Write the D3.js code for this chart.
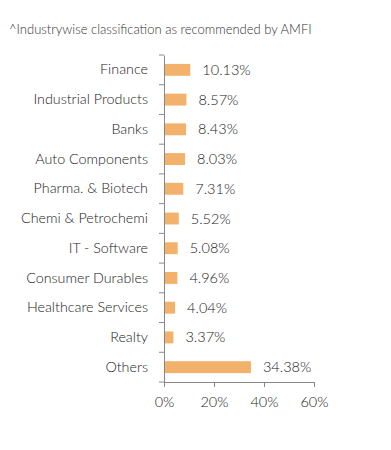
<!DOCTYPE html>
<html><head><meta charset="utf-8">
<script src="https://cdn.jsdelivr.net/npm/d3@7"></script>
<style>body{margin:0;background:#fff;}svg{display:block;font-family:Lato,"Open Sans",sans-serif;font-weight:300;}</style>
</head><body><svg id="c" width="391" height="450"></svg>
<script>
const categories = ["Finance","Industrial Products","Banks","Auto Components","Pharma. & Biotech","Chemi & Petrochemi","IT - Software","Consumer Durables","Healthcare Services","Realty","Others"];
const values = [10.13,8.57,8.43,8.03,7.31,5.52,5.08,4.96,4.04,3.37,34.38];
const xTicks = [0,20,40,60];
const title = "^Industrywise classification as recommended by AMFI";

const svg = d3.select("#c");
const x = d3.scaleLinear().domain([0,60]).range([164,314]);
const y = d3.scaleBand().domain(categories).range([55,382]).paddingInner(0.6).paddingOuter(0.3);

svg.append("text").attr("x",9).attr("y",34).attr("font-size",13).attr("fill","#333").text(title);

const yAxis = svg.append("g").attr("transform","translate(164,0)")
  .call(d3.axisLeft(y).tickSize(0).tickPadding(16));
yAxis.select(".domain").attr("stroke","#888");
yAxis.selectAll("text").attr("font-size",14.3).attr("fill","#222").attr("font-family","Lato").attr("font-weight",300);
const bounds = d3.range(categories.length+1).map(i=>55+i*(327/categories.length));
svg.append("g").selectAll("line").data(bounds).join("line")
  .attr("x1",159).attr("x2",164).attr("y1",d=>d).attr("y2",d=>d).attr("stroke","#888");

const xAxis = svg.append("g").attr("transform","translate(0,382)")
  .call(d3.axisBottom(x).tickValues(xTicks).tickFormat(d=>d+"%").tickSize(5).tickPadding(10));
xAxis.select(".domain").attr("stroke","#888");
xAxis.selectAll("line").attr("stroke","#888");
xAxis.selectAll("text").attr("font-size",14.5).attr("fill","#222").attr("font-family","Lato").attr("font-weight",300);

svg.append("g").selectAll("rect").data(values).join("rect")
  .attr("x",x(0)+1).attr("y",(d,i)=>y(categories[i]))
  .attr("width",d=>x(d)-x(0)).attr("height",y.bandwidth())
  .attr("fill","#F2B26C");

svg.append("g").selectAll("text").data(values).join("text")
  .attr("x",d=>x(d)+13).attr("y",(d,i)=>y(categories[i])+y.bandwidth()/2)
  .attr("dy","0.35em").attr("font-size",14.5).attr("fill","#222")
  .text(d=>d.toFixed(2)+"%");
</script></body></html>
